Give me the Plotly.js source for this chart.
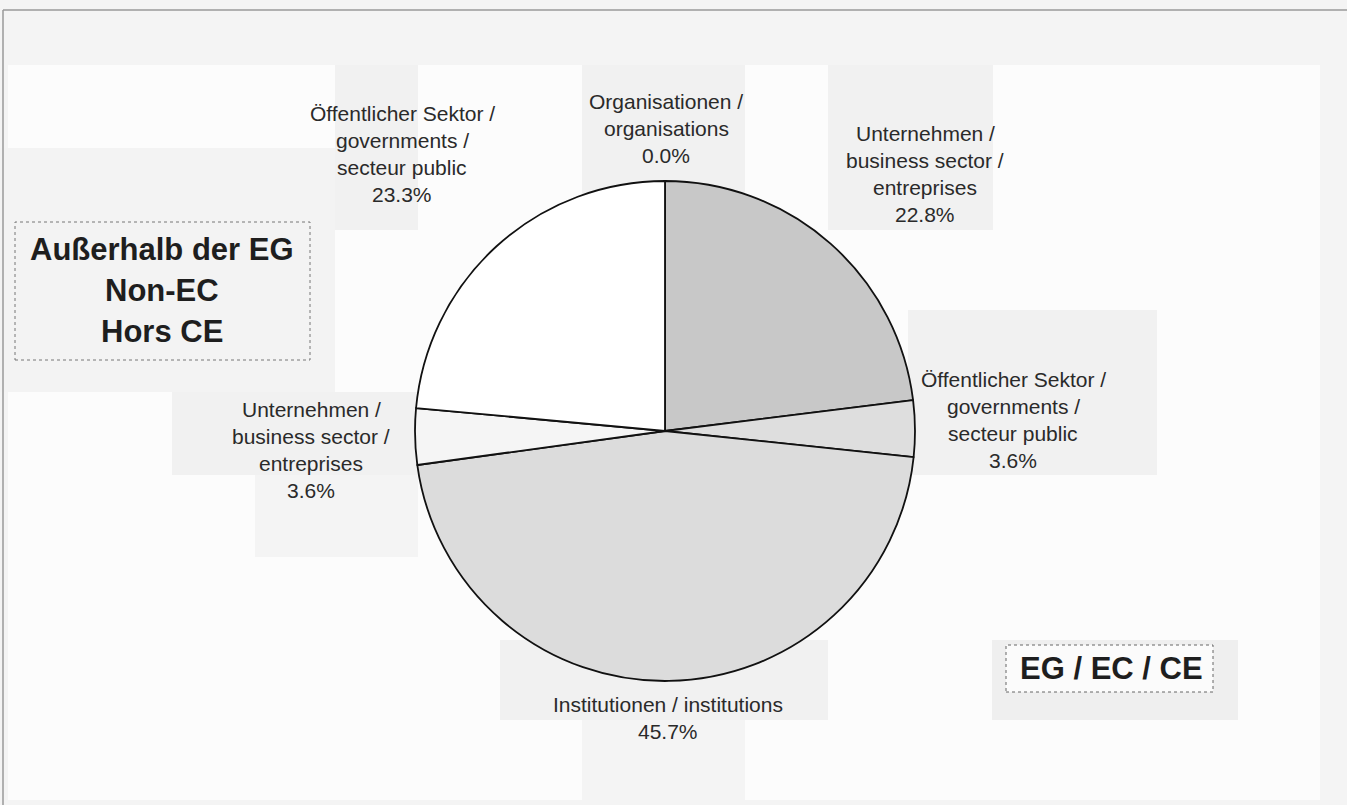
<!DOCTYPE html>
<html>
<head>
<meta charset="utf-8">
<script src="https://cdn.plot.ly/plotly-3.0.1.min.js"></script>
<style>
  html, body { margin: 0; padding: 0; background: #f4f4f4; }
  #chart { width: 1347px; height: 805px; }
</style>
</head>
<body>
<div id="chart"></div>
<script>
// ---- data ----
const labels = [
  'Organisationen / organisations',
  'Unternehmen / business sector / entreprises (EG)',
  'Öffentlicher Sektor / governments / secteur public (EG)',
  'Institutionen / institutions',
  'Unternehmen / business sector / entreprises (Non-EC)',
  'Öffentlicher Sektor / governments / secteur public (Non-EC)'
];
const labelLines = [
  ['Organisationen /', 'organisations'],
  ['Unternehmen /', 'business sector /', 'entreprises'],
  ['Öffentlicher Sektor /', 'governments /', 'secteur public'],
  ['Institutionen / institutions'],
  ['Unternehmen /', 'business sector /', 'entreprises'],
  ['Öffentlicher Sektor /', 'governments /', 'secteur public']
];
const values = [0.0, 22.8, 3.6, 45.7, 3.6, 23.3];
const nonEcTitle = ['Außerhalb der EG', 'Non-EC', 'Hors CE'];
const ecTitle = ['EG / EC / CE'];

// ---- styles / layout ----
const W = 1347, H = 805;
const sliceColors = ['#d0d0d0', '#c8c8c8', '#dedede', '#dcdcdc', '#f5f5f5', '#ffffff'];
// label anchor (center x, first line center y) in pixels
const labelPos = [[666, 101], [925, 134], [1013, 379], [668, 704], [311, 409], [402, 113]];
const lineStep = 27;
const px = x => x / W;
const py = y => 1 - y / H;

const annotations = [];
labelLines.forEach((lines, i) => {
  const all = lines.concat([values[i].toFixed(1) + '%']);
  all.forEach((t, k) => {
    annotations.push({
      text: t, xref: 'paper', yref: 'paper',
      x: px(labelPos[i][0]), y: py(labelPos[i][1] + k * lineStep),
      xanchor: 'center', yanchor: 'middle', showarrow: false,
      font: {family: 'Liberation Sans, Arial, sans-serif', size: 21, color: '#2a2a2a'}
    });
  });
});
nonEcTitle.forEach((t, k) => {
  annotations.push({
    text: '<b>' + t + '</b>', xref: 'paper', yref: 'paper',
    x: px(162), y: py(250 + k * 40.5), xanchor: 'center', yanchor: 'middle', showarrow: false,
    font: {family: 'Liberation Sans, Arial, sans-serif', size: 31, color: '#1e1e1e'}
  });
});
ecTitle.forEach((t, k) => {
  annotations.push({
    text: '<b>' + t + '</b>', xref: 'paper', yref: 'paper',
    x: px(1111), y: py(668 + k * 40), xanchor: 'center', yanchor: 'middle', showarrow: false,
    font: {family: 'Liberation Sans, Arial, sans-serif', size: 31, color: '#1e1e1e'}
  });
});

const rectPx = (x0, y0, x1, y1, fill, line) => ({
  type: 'rect', xref: 'paper', yref: 'paper', layer: 'below',
  x0: px(x0), x1: px(x1), y0: py(y1), y1: py(y0),
  fillcolor: fill, line: line || {width: 0}
});

const shapes = [
  // inner lighter area
  rectPx(8, 65, 1320, 800, '#fcfcfc'),
  // compression-like grey patches behind labels
  rectPx(335, 65, 418, 230, '#f1f1f1'),
  rectPx(582, 65, 745, 230, '#f1f1f1'),
  rectPx(828, 65, 993, 230, '#f1f1f1'),
  rectPx(908, 310, 1157, 475, '#f1f1f1'),
  rectPx(172, 392, 418, 475, '#f1f1f1'),
  rectPx(255, 475, 418, 557, '#f4f4f4'),
  rectPx(500, 640, 828, 720, '#f1f1f1'),
  rectPx(582, 720, 745, 800, '#f4f4f4'),
  rectPx(992, 640, 1238, 720, '#efefef'),
  rectPx(0, 148, 335, 392, '#f3f3f3'),
  // frame
  {type: 'line', xref: 'paper', yref: 'paper', x0: px(3), x1: px(1347), y0: py(10), y1: py(10), line: {color: '#9a9a9a', width: 1.5}},
  {type: 'line', xref: 'paper', yref: 'paper', x0: px(3), x1: px(3), y0: py(10), y1: py(805), line: {color: '#9a9a9a', width: 1.5}},
  // title boxes
  rectPx(15, 222, 310, 360, '#f3f3f3', {color: '#777777', width: 1, dash: 'dot'}),
  rectPx(1006, 645, 1213, 692, '#fbfbfb', {color: '#666666', width: 1, dash: 'dot'})
];

const trace = {
  type: 'pie',
  labels: labels,
  values: values,
  sort: false,
  direction: 'clockwise',
  rotation: 0,
  textinfo: 'none',
  hoverinfo: 'label+percent',
  showlegend: false,
  marker: {colors: sliceColors, line: {color: '#111111', width: 1.8}},
  domain: {x: [px(415), px(915)], y: [py(681), py(181)]}
};

const layout = {
  width: W, height: H,
  margin: {l: 0, r: 0, t: 0, b: 0},
  paper_bgcolor: '#f4f4f4',
  plot_bgcolor: '#f4f4f4',
  showlegend: false,
  annotations: annotations,
  shapes: shapes
};

Plotly.newPlot('chart', [trace], layout, {displayModeBar: false, staticPlot: true});
</script>
</body>
</html>
